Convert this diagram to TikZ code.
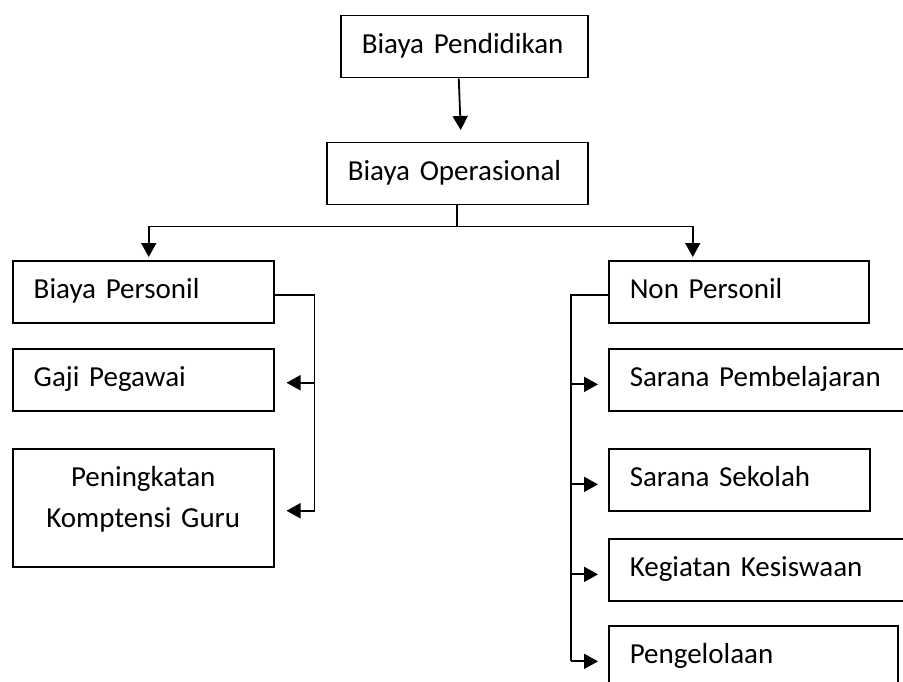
\documentclass[tikz,border=0pt]{standalone}
\usepackage{fontspec}
\setmainfont{Carlito}
\usetikzlibrary{arrows.meta}

\begin{document}
\begin{tikzpicture}[x=1pt, y=-1pt, font=\fontsize{29}{41}\selectfont,
  box/.style={draw, line width=1.5pt, anchor=north west, inner xsep=21pt,
    inner ysep=18pt, minimum height=62pt, text height=20pt, text depth=6pt,
    align=left},
  link/.style={line width=1.8pt},
  arr/.style={link, -{Triangle[length=14pt, width=15pt]}}]
  \useasboundingbox (0,0) rectangle (903,682);
  \clip (0,0) rectangle (903,682);

  \node[box, text width=205pt] (pendidikan) at (340,15) {Biaya Pendidikan};
  \node[box, text width=219pt, minimum height=61pt] (operasional) at (326,142) {Biaya Operasional};

  \node[box, text width=219pt] (personil) at (12,260) {Biaya Personil};
  \node[box, text width=219pt] (gaji) at (12,348) {Gaji Pegawai};
  \node[box, text width=219pt, align=center, text depth=62pt] (peningkatan) at (12,448)
    {Peningkatan\\Komptensi Guru};

  \node[box, text width=218pt] (nonpersonil) at (608,260) {Non Personil};
  \node[box, text width=298pt] (pembelajaran) at (608,348) {Sarana Pembelajaran};
  \node[box, text width=219pt] (sekolah) at (608,448) {Sarana Sekolah};
  \node[box, text width=298pt] (kegiatan) at (608,538) {Kegiatan Kesiswaan};
  \node[box, text width=247pt, text depth=44pt] (pengelolaan) at (608,625) {Pengelolaan};

  \draw[arr] ([xshift=-5.5pt]pendidikan.south) -- ([xshift=3.5pt,yshift=12pt]operasional.north);
  \draw[link] (operasional.south) -- ++(0,21) coordinate (split);
  \draw[arr] (split) -| ([xshift=5.5pt,yshift=3pt]personil.north);
  \draw[arr] (split) -| ([xshift=-46pt,yshift=3pt]nonpersonil.north);

  \draw[link] ([yshift=-3pt]personil.east) -| ([xshift=40pt,yshift=-3pt]peningkatan.east);
  \foreach \n in {gaji,peningkatan}
    \draw[arr] ([xshift=40pt,yshift=-3pt]\n.east) -- ([xshift=12pt,yshift=-3pt]\n.east);

  \draw[link] ([yshift=-3pt]nonpersonil.west) -| ([xshift=-37pt]pengelolaan.mid west);
  \foreach \n in {pembelajaran,sekolah,kegiatan,pengelolaan}
    \draw[arr] ([xshift=-37pt]\n.mid west) -- ([xshift=-10pt]\n.mid west);
\end{tikzpicture}
\end{document}
